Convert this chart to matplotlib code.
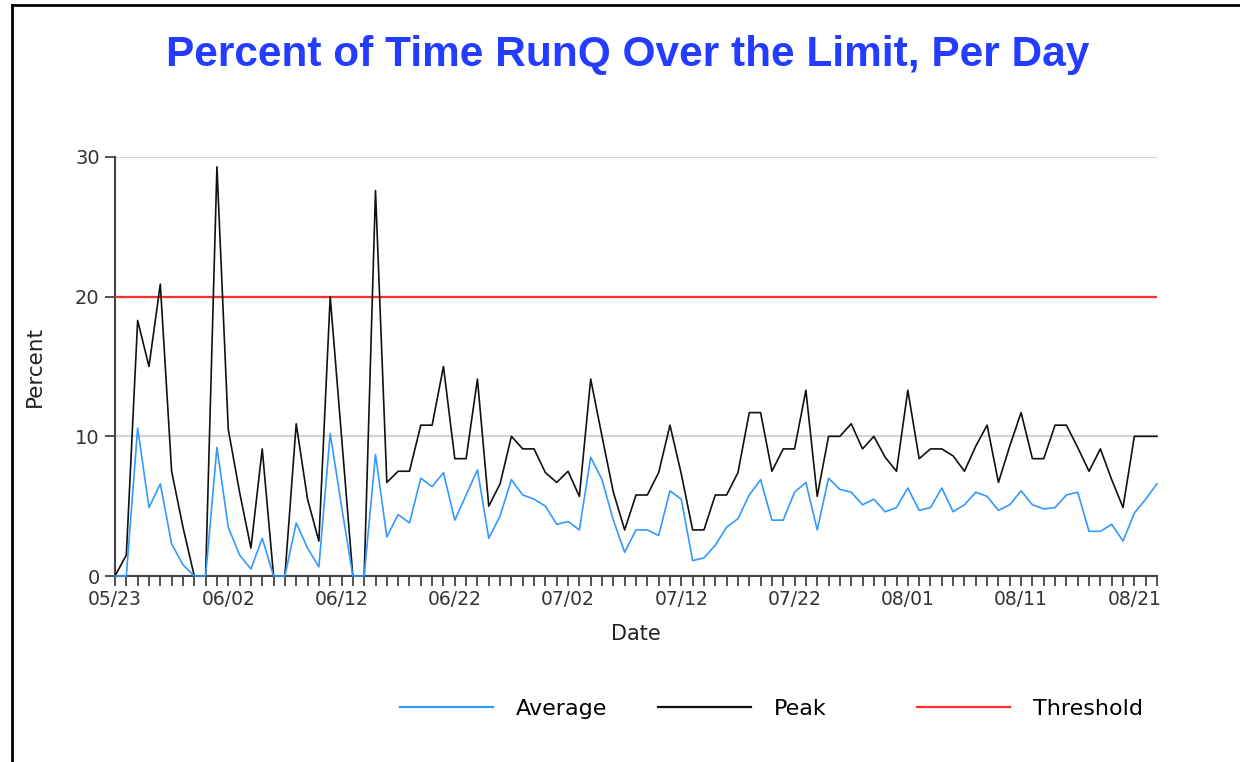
import matplotlib
matplotlib.use("Agg")
import matplotlib.pyplot as plt
from matplotlib.lines import Line2D
import numpy as np

# ---- data (one value per day, starting 05/23) ----
average = [0, 0, 10.6, 4.9, 6.6, 2.3, 0.8, 0, 0, 9.2,
           3.5, 1.5, 0.5, 2.7, 0, 0, 3.8, 2.0, 0.65, 10.2,
           5.0, 0, 0, 8.7, 2.8, 4.4, 3.8, 7.0, 6.4, 7.4,
           4.0, 5.8, 7.6, 2.7, 4.3, 6.9, 5.8, 5.5, 5.0, 3.7,
           3.9, 3.3, 8.5, 6.9, 4.0, 1.7, 3.3, 3.3, 2.9, 6.1,
           5.5, 1.1, 1.3, 2.2, 3.5, 4.1, 5.8, 6.9, 4.0, 4.0,
           6.0, 6.7, 3.3, 7.0, 6.2, 6.0, 5.1, 5.5, 4.6, 4.9,
           6.3, 4.7, 4.9, 6.3, 4.6, 5.1, 6.0, 5.7, 4.7, 5.1,
           6.1, 5.1, 4.8, 4.9, 5.8, 6.0, 3.2, 3.2, 3.7, 2.5,
           4.5, 5.5, 6.6]
peak = [0, 1.5, 18.3, 15.0, 20.9, 7.5, 3.5, 0, 0, 29.3,
        10.5, 6.0, 2.0, 9.1, 0, 0, 10.9, 5.5, 2.5, 20.0,
        10.0, 0, 0, 27.6, 6.7, 7.5, 7.5, 10.8, 10.8, 15.0,
        8.4, 8.4, 14.1, 5.0, 6.6, 10.0, 9.1, 9.1, 7.4, 6.7,
        7.5, 5.7, 14.1, 10.0, 6.0, 3.3, 5.8, 5.8, 7.4, 10.8,
        7.3, 3.3, 3.3, 5.8, 5.8, 7.4, 11.7, 11.7, 7.5, 9.1,
        9.1, 13.3, 5.7, 10.0, 10.0, 10.9, 9.1, 10.0, 8.5, 7.5,
        13.3, 8.4, 9.1, 9.1, 8.6, 7.5, 9.3, 10.8, 6.7, 9.3,
        11.7, 8.4, 8.4, 10.8, 10.8, 9.2, 7.5, 9.1, 6.9, 4.9,
        10.0, 10.0, 10.0]
threshold_value = 20
tick_labels = ["05/23", "06/02", "06/12", "06/22", "07/02",
               "07/12", "07/22", "08/01", "08/11", "08/21"]
y_ticks = [0, 10, 20, 30]
series_names = ["Average", "Peak", "Threshold"]
series_colors = ["#3399ff", "#111111", "#ff2e2e"]

days = np.arange(len(peak))
threshold = [threshold_value] * len(days)

W, H = 1240, 762
fig = plt.figure(figsize=(W / 100, H / 100), dpi=100)
fig.patch.set_facecolor("white")

ax = fig.add_axes([115 / W, 1 - 576 / H, (1157 - 115) / W, (576 - 157) / H])

l_avg, = ax.plot(days, average, color=series_colors[0], lw=1.2,
                 label=series_names[0], zorder=5, clip_on=False)
l_peak, = ax.plot(days, peak, color=series_colors[1], lw=1.2,
                  label=series_names[1], zorder=4, clip_on=False)
l_thr, = ax.plot(days, threshold, color=series_colors[2], lw=1.6,
                 label=series_names[2], zorder=3)

ax.set_xlim(0, len(days) - 1)
ax.set_ylim(0, 30)
ax.set_yticks(y_ticks)
ax.set_yticklabels([str(v) for v in y_ticks])
ax.set_xticks(np.arange(0, 10 * len(tick_labels), 10))
ax.set_xticklabels(tick_labels)
ax.set_xticks(days, minor=True)

ax.grid(axis="y", color="#d4d4d4", lw=1.6, zorder=0)
for s in ["top", "right"]:
    ax.spines[s].set_visible(False)
for s in ["left", "bottom"]:
    ax.spines[s].set_color("#444444")
    ax.spines[s].set_linewidth(1.5)

ax.tick_params(axis="x", which="both", length=7, width=1.3, color="#444444",
               direction="out", pad=3, labelsize=13.5, labelcolor="#333333")
ax.tick_params(axis="y", length=7, width=1.3, color="#444444", pad=4,
               labelsize=14, labelcolor="#333333")

ax.set_xlabel("Date", fontsize=15, color="#222222", labelpad=11)
ax.set_ylabel("Percent", fontsize=15.5, color="#222222", labelpad=22)

fig.text(628 / W, 1 - 66 / H, "Percent of Time RunQ Over the Limit, Per Day",
         ha="center", va="baseline", fontsize=30.5, fontweight="bold",
         color="#233cff", family="Liberation Sans")

# legend: three evenly spaced entries
leg_y = 1 - 709 / H
for handle, x0 in zip([l_avg, l_peak, l_thr], [400, 658, 917]):
    lg = fig.legend(handles=[handle], loc="center left",
                    bbox_to_anchor=(x0 / W, leg_y), frameon=False,
                    fontsize=16, handlelength=4.2, handletextpad=1.0,
                    borderpad=0, borderaxespad=0)
    for ln in lg.get_lines():
        ln.set_linewidth(1.6)

# frame lines along top and left edge
fig.add_artist(Line2D([12 / W, 1], [1 - 5 / H, 1 - 5 / H], color="black",
                      lw=2, transform=fig.transFigure))
fig.add_artist(Line2D([12 / W, 12 / W], [0, 1 - 5 / H], color="black",
                      lw=2, transform=fig.transFigure))

fig.savefig("out.png", dpi=100)
